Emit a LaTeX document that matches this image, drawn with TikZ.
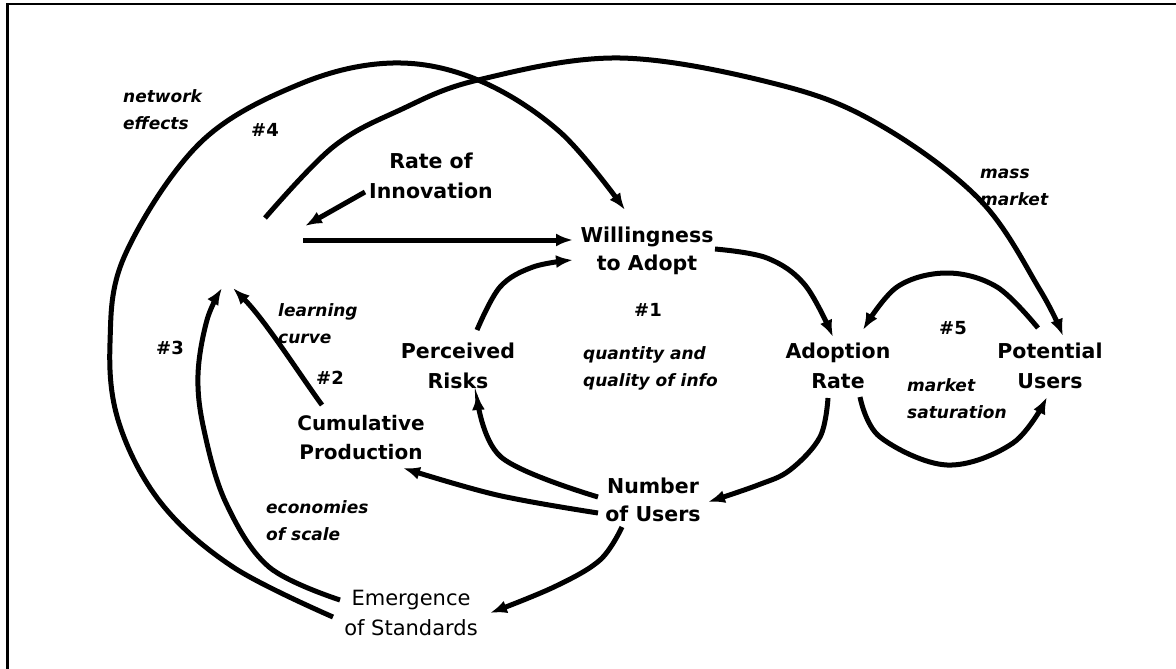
\documentclass[tikz,border=0pt]{standalone}
\usepackage{fontspec}
\setmainfont{DejaVu Sans}
\usetikzlibrary{arrows.meta}
\tikzset{
  var/.style={font=\bfseries\fontsize{20.5}{30}\selectfont, align=center, inner sep=0pt},
  plainvar/.style={font=\fontsize{21}{30}\selectfont, align=center, inner sep=0pt},
  lbl/.style={font=\bfseries\itshape\fontsize{17}{27}\selectfont, align=left, inner sep=0pt, anchor=west},
  loopnum/.style={font=\bfseries\fontsize{18}{20}\selectfont, inner sep=0pt},
  link/.style={line width=5pt, -{Latex[length=17pt,width=13pt]}},
  frame/.style={line width=2.5pt}
}
\begin{document}
\begin{tikzpicture}[x=1pt,y=-1pt]
\useasboundingbox (0,0) rectangle (1176,669);
\draw[frame] (7.5,669) -- (7.5,4) -- (1176,4);

% variables
\node[var] (ri) at (431,176) {Rate of\\Innovation};
\node[var, font=\bfseries\fontsize{20.5}{28}\selectfont] (wta) at (647,251) {Willingness\\to Adopt};
\node[var] (pr) at (458,366) {Perceived\\Risks};
\node[var] (ar) at (838,366) {Adoption\\Rate};
\node[var] (pu) at (1050,366) {Potential\\Users};
\node[var, font=\bfseries\fontsize{20.5}{28}\selectfont] (nu) at (653,500) {Number\\of Users};
\node[var, font=\bfseries\fontsize{20}{29}\selectfont] (cp) at (361,438) {Cumulative\\Production};
\node[plainvar] (es) at (411,613) {Emergence\\of Standards};

% loop labels
\node[loopnum] (n1) at (648,310) {\#1};
\node[loopnum] (n2) at (330,378) {\#2};
\node[loopnum] (n3) at (170,348) {\#3};
\node[loopnum] (n4) at (265,130) {\#4};
\node[loopnum] (n5) at (953,328) {\#5};
\node[lbl] (lnet) at (123,110) {network\\effects};
\node[lbl] (lmass) at (980,187) {mass\\market};
\node[lbl] (llearn) at (278,324) {learning\\curve};
\node[lbl] (lecon) at (266,521) {economies\\of scale};
\node[lbl] (lqual) at (583,368) {quantity and\\quality of info};
\node[lbl] (lsat) at (907,399) {market\\saturation};

% connector end points
\coordinate (es-w1) at (340,600);
\coordinate (es-w2) at (333,617);
\coordinate (wta-n) at (625,210);
\coordinate (blank-n) at (265,218);
\coordinate (pu-n) at (1063,336);
\coordinate (blank-s1) at (222,288);
\coordinate (blank-s2) at (233,288);
\coordinate (cp-n) at (322,405);
\coordinate (ri-sw) at (365,192);
\coordinate (blank-ne) at (305,226);
\coordinate (blank-e) at (303,240);
\coordinate (wta-w1) at (573,240);
\coordinate (pr-n) at (477,330);
\coordinate (wta-w2) at (573,260);
\coordinate (wta-e) at (715,249);
\coordinate (ar-n) at (833,337);
\coordinate (ar-s) at (828,398);
\coordinate (nu-e) at (708,502);
\coordinate (nu-w1) at (598,497);
\coordinate (pr-s) at (477,393);
\coordinate (nu-w2) at (598,513);
\coordinate (cp-se) at (403,468);
\coordinate (nu-s) at (622,527);
\coordinate (es-e) at (490,613);
\coordinate (pu-nw) at (1038,328);
\coordinate (ar-ne) at (863,330);
\coordinate (ar-se) at (860,397);
\coordinate (pu-sw) at (1047,397);

% connectors
\draw[link] plot[smooth, tension=0.6] coordinates {(es-w2) (233,567) (161,503) (119,423) (110,343) (125,255) (200,143) (300,84) (393,63) (478,80) (560,132) (wta-n)};
\draw[link] plot[smooth, tension=0.6] coordinates {(blank-n) (333,147) (400,110) (478,80) (620,58) (780,85) (880,125) (980,200) (1040,290) (pu-n)};
\draw[link] plot[smooth, tension=0.6] coordinates {(es-w1) (269,567) (226,503) (204,430) (198,375) (207,320) (blank-s1)};
\draw[link] (cp-n) .. controls (300,375) and (265,320) .. (blank-s2);
\draw[link] (ri-sw) -- (blank-ne);
\draw[link] (blank-e) -- (wta-w1);
\draw[link] plot[smooth, tension=0.6] coordinates {(pr-n) (500,287) (533,267) (wta-w2)};
\draw[link] plot[smooth, tension=0.6] coordinates {(wta-e) (767,258) (805,285) (ar-n)};
\draw[link] plot[smooth, tension=0.6] coordinates {(ar-s) (820,437) (790,470) (758,485) (nu-e)};
\draw[link] plot[smooth, tension=0.6] coordinates {(nu-w1) (501,457) (pr-s)};
\draw[link] plot[smooth, tension=0.6] coordinates {(nu-w2) (497,495) (cp-se)};
\draw[link] plot[smooth, tension=0.6] coordinates {(nu-s) (600,560) (554,587) (es-e)};
\draw[link] plot[smooth, tension=0.6] coordinates {(pu-nw) (997,287) (947,273) (897,287) (ar-ne)};
\draw[link] plot[smooth, tension=0.6] coordinates {(ar-se) (880,437) (947,465) (1013,443) (pu-sw)};
\end{tikzpicture}
\end{document}
